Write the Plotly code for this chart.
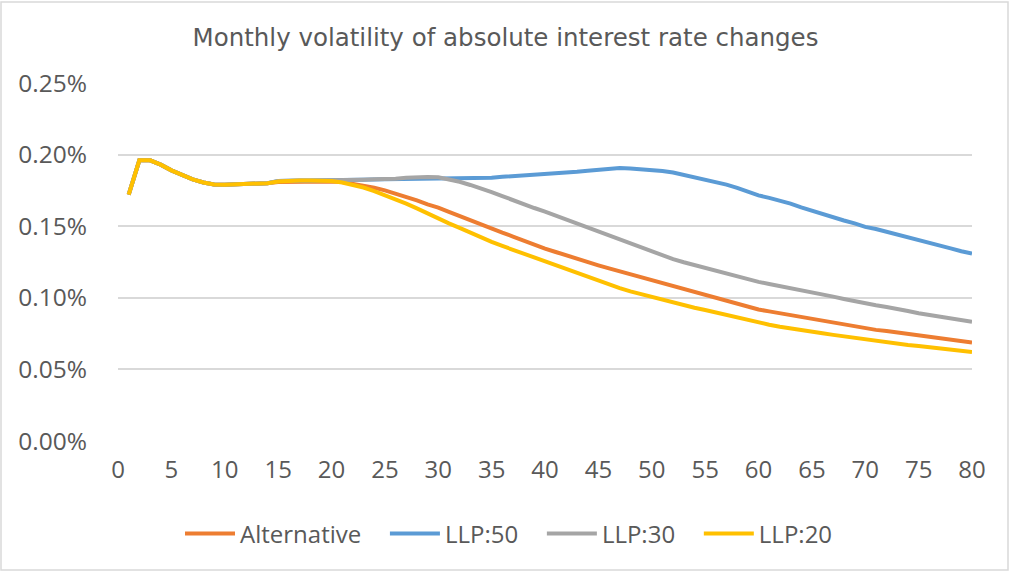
import plotly.graph_objects as go

x_vals = list(range(1, 81))

common_head = [0.172, 0.196, 0.196, 0.193, 0.189, 0.1855, 0.1827, 0.1805, 0.1792, 0.179,
               0.1791, 0.1793, 0.1795, 0.180]

alternative = common_head + [
    0.1808, 0.181, 0.1805, 0.1808, 0.181, 0.1813,
    0.1808, 0.1797, 0.1785, 0.1768, 0.175, 0.1728, 0.1705, 0.168, 0.1652, 0.163,
    0.160, 0.157, 0.1542, 0.1512, 0.1483, 0.1455, 0.1428, 0.1398, 0.137, 0.1344,
    0.132, 0.1295, 0.127, 0.1248, 0.1227, 0.1205, 0.1185, 0.1165, 0.1142, 0.1123,
    0.1102, 0.1082, 0.106, 0.1038, 0.1018, 0.0998, 0.098, 0.096, 0.094, 0.0918,
    0.0905, 0.0892, 0.0878, 0.0866, 0.0855, 0.0843, 0.0828, 0.0812, 0.0801, 0.0788,
    0.0776, 0.0768, 0.0758, 0.0749, 0.0739, 0.0731, 0.0722, 0.071, 0.0698, 0.0688]

llp50 = common_head + [
    0.1815, 0.182, 0.182, 0.182, 0.182, 0.182,
    0.1822, 0.1823, 0.1824, 0.1826, 0.1827, 0.1828, 0.183, 0.1831, 0.1832, 0.1833,
    0.1834, 0.1836, 0.1837, 0.1838, 0.1839, 0.1845, 0.185, 0.1853, 0.1856, 0.186,
    0.1866, 0.1873, 0.188, 0.1888, 0.1895, 0.190, 0.1906, 0.1903, 0.1898, 0.1893,
    0.1885, 0.1875, 0.1858, 0.1843, 0.1822, 0.181, 0.179, 0.1768, 0.1742, 0.1715,
    0.1698, 0.168, 0.1658, 0.1632, 0.1608, 0.159, 0.1563, 0.154, 0.152, 0.1495,
    0.148, 0.146, 0.1438, 0.142, 0.1402, 0.1385, 0.1365, 0.1345, 0.1325, 0.1309]

llp30 = common_head + [
    0.1815, 0.182, 0.182, 0.182, 0.182, 0.1821,
    0.1822, 0.1823, 0.1825, 0.1827, 0.1828, 0.1832, 0.1838, 0.1842, 0.1843, 0.1842,
    0.1828, 0.181, 0.1788, 0.1765, 0.1738, 0.171, 0.168, 0.1652, 0.1627, 0.1602,
    0.1574, 0.1545, 0.1517, 0.149, 0.146, 0.1432, 0.1405, 0.1378, 0.1348, 0.132,
    0.1295, 0.127, 0.1248, 0.1228, 0.1205, 0.1188, 0.1168, 0.1148, 0.1128, 0.1111,
    0.1097, 0.1083, 0.1069, 0.1055, 0.1041, 0.1025, 0.1008, 0.0992, 0.0976, 0.0962,
    0.0948, 0.0936, 0.0925, 0.0908, 0.0892, 0.088, 0.0866, 0.0853, 0.0842, 0.0833]

llp20 = common_head + [
    0.1812, 0.1818, 0.182, 0.182, 0.1819, 0.1815,
    0.1805, 0.1788, 0.177, 0.1745, 0.1717, 0.169, 0.1658, 0.1625, 0.1588, 0.1553,
    0.152, 0.1488, 0.1453, 0.1422, 0.139, 0.1362, 0.1335, 0.1305, 0.1278, 0.125,
    0.1225, 0.1198, 0.1172, 0.1142, 0.1115, 0.1092, 0.1068, 0.1045, 0.1025, 0.1006,
    0.0985, 0.0965, 0.095, 0.0931, 0.0915, 0.0897, 0.088, 0.0862, 0.0842, 0.0823,
    0.0812, 0.0798, 0.0788, 0.0775, 0.0763, 0.0752, 0.0741, 0.073, 0.0721, 0.071,
    0.0698, 0.0688, 0.068, 0.0671, 0.0663, 0.0655, 0.0648, 0.0638, 0.0628, 0.0621]

series_names = ["Alternative", "LLP:50", "LLP:30", "LLP:20"]
series_values = [alternative, llp50, llp30, llp20]
series_colors = ["#ED7D31", "#5B9BD5", "#A5A5A5", "#FFC000"]

x_ticks = list(range(0, 81, 5))
y_ticks = [0.0, 0.05, 0.10, 0.15, 0.20, 0.25]
y_tick_labels = ["0.00%", "0.05%", "0.10%", "0.15%", "0.20%", "0.25%"]

FONT = "Open Sans, Noto Sans, sans-serif"
TITLE_FONT = "DejaVu Sans, Verdana, sans-serif"
TXT = "#595959"
PAD = "\u00a0\u00a0\u00a0"

fig = go.Figure()
for i, (name, vals, col) in enumerate(zip(series_names, series_values, series_colors)):
    label = name + (PAD if i < len(series_names) - 1 else "")
    fig.add_trace(go.Scatter(x=x_vals, y=vals, name=label, mode="lines",
                             line=dict(color=col, width=4, shape="linear")))

W, H = 1011, 573
L, R, T, B = 118, 39, 83, 132

fig.update_layout(
    width=W, height=H,
    margin=dict(l=L, r=R, t=T, b=B, pad=0),
    paper_bgcolor="white", plot_bgcolor="white",
    font=dict(family=FONT, color=TXT, size=24),
    title=dict(text="Monthly volatility of absolute interest rate changes",
               x=0.5, xref="container", xanchor="center",
               y=1 - 37 / H, yref="container", yanchor="middle",
               font=dict(family=TITLE_FONT, size=24.5, color=TXT)),
    xaxis=dict(range=[0, 80], tickmode="array", tickvals=x_ticks,
               showgrid=False, zeroline=False, showline=False, ticks="",
               ticklabelstandoff=12, tickfont=dict(size=24, color=TXT)),
    yaxis=dict(range=[0, 0.25], tickmode="array", tickvals=y_ticks,
               ticktext=y_tick_labels,
               showgrid=True, gridcolor="#D9D9D9", gridwidth=1.5,
               zeroline=False, showline=False, ticks="",
               ticklabelstandoff=30, tickfont=dict(size=24.5, color=TXT)),
    legend=dict(orientation="h", x=509 / W, xref="container", xanchor="center",
                y=1 - 534 / H, yref="container", yanchor="middle",
                font=dict(size=24, color=TXT), itemwidth=50,
                traceorder="normal"),
    showlegend=True,
)

pw = W - L - R
ph = H - T - B
fig.add_shape(type="rect", xref="paper", yref="paper",
              x0=(1 - L) / pw, x1=(W - 3 - L) / pw,
              y0=(H - B - (H - 3)) / ph, y1=(H - B - 2) / ph,
              line=dict(color="#D9D9D9", width=1.5), fillcolor="rgba(0,0,0,0)")

fig.write_html("out.html", config={"displayModeBar": False},
               post_script="document.body.style.margin='0px';document.body.style.overflow='hidden';")
